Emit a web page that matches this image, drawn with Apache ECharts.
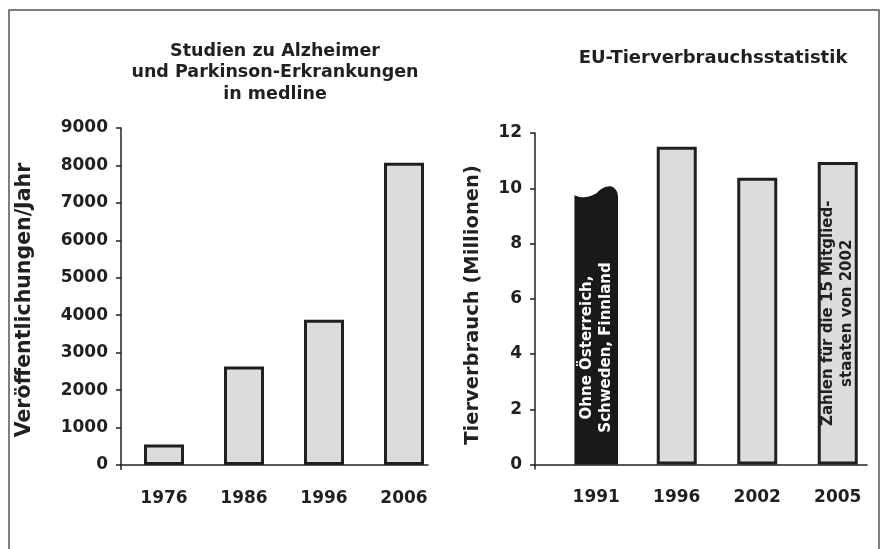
<!DOCTYPE html>
<html>
<head>
<meta charset="utf-8">
<script src="https://cdn.jsdelivr.net/npm/echarts@6/dist/echarts.min.js"></script>
<style>
  html, body { margin: 0; padding: 0; background: #fff; }
  #chart { width: 882px; height: 549px; }
</style>
</head>
<body>
<div id="chart"></div>
<script>
// ---- data ----
const leftTitle = 'Studien zu Alzheimer\nund Parkinson-Erkrankungen\nin medline';
const leftAxisName = 'Veröffentlichungen/Jahr';
const leftCategories = ['1976', '1986', '1996', '2006'];
const leftValues = [550, 2630, 3880, 8070];
const leftTickMin = 0, leftTickMax = 9000, leftTickStep = 1000;

const rightTitle = 'EU-Tierverbrauchsstatistik';
const rightAxisName = 'Tierverbrauch (Millionen)';
const rightCategories = ['1991', '1996', '2002', '2005'];
const rightValues = [9.75, 11.5, 10.38, 10.95];
const rightTickMin = 0, rightTickMax = 12, rightTickStep = 2;
const rightNotes = ['Ohne Österreich,\nSchweden, Finnland', '', '', 'Zahlen für die 15 Mitglied-\nstaaten von 2002'];
const partialIndex = 0; // the torn black bar

// ---- styles ----
const FONT = '"DejaVu Sans", "Liberation Sans", sans-serif';
const INK = '#231f20';
const FILL = '#dcdcde';

const chart = echarts.init(document.getElementById('chart'), null, { renderer: 'canvas' });

const axisGridL = { left: 121, top: 128, width: 307, height: 337 };
const barGridL  = { left: 124, top: 128, width: 320, height: 337 };
const axisGridR = { left: 535, top: 133, width: 332, height: 331.5 };
const barGridR  = { left: 556, top: 133, width: 322, height: 331.5 };

function axisX(gridIndex) {
  return { type: 'value', gridIndex, min: 0, max: 1,
    axisLine: { show: true, onZero: false, lineStyle: { color: INK, width: 1.5 } },
    axisTick: { show: false }, axisLabel: { show: false }, splitLine: { show: false } };
}
function axisY(gridIndex, min, max, step) {
  return { type: 'value', gridIndex, min, max, interval: step,
    axisLine: { show: true, lineStyle: { color: INK, width: 1.5 } },
    axisTick: { show: true, inside: false, length: 5, lineStyle: { color: INK, width: 1.5 } },
    axisLabel: { color: INK, fontFamily: FONT, fontWeight: 'bold', fontSize: 17, margin: 13,
      formatter: v => String(v) },
    splitLine: { show: false } };
}
function catX(gridIndex, data) {
  return { type: 'category', gridIndex, data,
    axisLine: { show: false }, axisTick: { show: false }, splitLine: { show: false },
    axisLabel: { color: INK, fontFamily: FONT, fontWeight: 'bold', fontSize: 17, margin: 25 } };
}
function hiddenY(gridIndex, min, max) {
  return { type: 'value', gridIndex, min, max, show: false, splitLine: { show: false } };
}

const barStyle = { color: FILL, borderColor: INK, borderWidth: 3 };

// small stubs where the y axes run a little past the x axes
function axisStub(grid) {
  const x = grid.left, y = grid.top + grid.height;
  return { type: 'line', silent: true, shape: { x1: x, y1: y, x2: x, y2: y + 5 },
    style: { stroke: INK, lineWidth: 1.5 } };
}

const option = {
  animation: false,
  backgroundColor: '#fff',
  title: [
    { text: leftTitle, left: 270, top: 35.5, textAlign: 'center',
      textStyle: { color: INK, fontFamily: FONT, fontWeight: 'bold', fontSize: 17.5, lineHeight: 21.5 } },
    { text: rightTitle, left: 708, top: 43, textAlign: 'center',
      textStyle: { color: INK, fontFamily: FONT, fontWeight: 'bold', fontSize: 18, lineHeight: 21.5 } }
  ],
  graphic: [
    { type: 'rect', silent: true, z: -1,
      shape: { x: 9, y: 10, width: 870, height: 600 },
      style: { fill: 'none', stroke: '#555', lineWidth: 1.5 } },
    axisStub(axisGridL),
    axisStub(axisGridR),
    { type: 'text', x: 25, y: 300, rotation: Math.PI / 2, silent: true,
      style: { text: leftAxisName, fill: INK, font: 'bold 20.5px ' + FONT,
        align: 'center', verticalAlign: 'middle' } },
    { type: 'text', x: 472.5, y: 305, rotation: Math.PI / 2, silent: true,
      style: { text: rightAxisName, fill: INK, font: 'bold 19.5px ' + FONT,
        align: 'center', verticalAlign: 'middle' } }
  ],
  grid: [axisGridL, barGridL, axisGridR, barGridR],
  xAxis: [
    axisX(0),
    catX(1, leftCategories),
    axisX(2),
    catX(3, rightCategories)
  ],
  yAxis: [
    axisY(0, leftTickMin, leftTickMax, leftTickStep),
    hiddenY(1, leftTickMin, leftTickMax),
    axisY(2, rightTickMin, rightTickMax, rightTickStep),
    hiddenY(3, rightTickMin, rightTickMax)
  ],
  series: [
    { type: 'bar', xAxisIndex: 1, yAxisIndex: 1, barWidth: 40,
      itemStyle: barStyle, data: leftValues, z: 1 },
    { type: 'bar', xAxisIndex: 3, yAxisIndex: 3, barWidth: 40, itemStyle: barStyle, z: 1,
      data: rightValues.map((v, i) => {
        if (i === partialIndex) return '-';
        if (!rightNotes[i]) return v;
        return { value: v, label: { show: true, position: 'inside', rotate: 90,
          formatter: rightNotes[i], color: INK, fontFamily: FONT, fontWeight: 'bold',
          fontSize: 15, lineHeight: 19, align: 'center', verticalAlign: 'middle' } };
      }) },
    { type: 'custom', xAxisIndex: 3, yAxisIndex: 3, z: 2,
      data: rightValues.map((v, i) => [i, v]).filter(d => d[0] === partialIndex),
      renderItem: function (params, api) {
        const idx = api.value(0), val = api.value(1);
        const top = api.coord([idx, val]);
        const base = api.coord([idx, 0]);
        const w = 43.6;
        const x0 = top[0] - w / 2, x1 = top[0] + w / 2, yt = top[1], y0 = base[1];
        const path = 'M' + x0 + ' ' + y0 + ' L' + x0 + ' ' + yt +
          ' C' + (x0 + 6) + ' ' + (yt + 3) + ' ' + (x0 + 14) + ' ' + (yt + 3) + ' ' + (x0 + 22) + ' ' + (yt - 2) +
          ' C' + (x0 + 28) + ' ' + (yt - 8) + ' ' + (x0 + 35) + ' ' + (yt - 11) + ' ' + (x0 + 40) + ' ' + (yt - 7) +
          ' Q' + x1 + ' ' + (yt - 4) + ' ' + x1 + ' ' + (yt + 2) +
          ' L' + x1 + ' ' + y0 + ' Z';
        return {
          type: 'group',
          children: [
            { type: 'path', shape: { pathData: path }, style: { fill: '#1b1819', stroke: 'none' } },
            { type: 'text', x: top[0], y: y0 - 117, rotation: Math.PI / 2,
              style: { text: rightNotes[idx], fill: '#fff', font: 'bold 15px ' + FONT,
                lineHeight: 19, align: 'center', verticalAlign: 'middle' } }
          ]
        };
      } }
  ]
};
chart.setOption(option);
</script>
</body>
</html>
